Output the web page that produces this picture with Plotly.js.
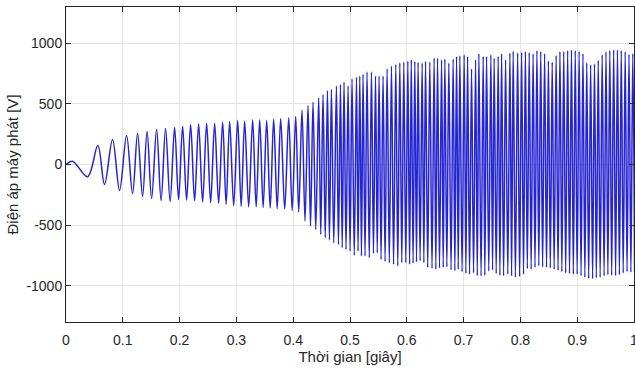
<!DOCTYPE html>
<html>
<head>
<meta charset="utf-8">
<script src="https://cdn.plot.ly/plotly-3.0.1.min.js"></script>
<style>
  html, body { margin: 0; padding: 0; background: #ffffff; }
  #chart { width: 635px; height: 369px; }
</style>
</head>
<body>
<div id="chart"></div>
<script>
// Extrema (alternating peaks / troughs) of the generator voltage.
// Time in seconds, voltage in volts.

// Start-up, 0 - 0.19 s
const tPhase1 = [0, 0.0115, 0.0379, 0.0560, 0.0678, 0.0819, 0.0943, 0.1066, 0.1172, 0.1260,
  0.1348, 0.1427, 0.1507, 0.1595, 0.1674, 0.1753, 0.1833, 0.1912];
const vPhase1 = [0, 27, -101, 156, -165, 207, -215, 240, -240, 256,
  -264, 273, -281, 289, -298, 298, -306, 306];

// Steady oscillation, 0.19 - 0.40 s
const tPhase2 = [0.1982, 0.2053, 0.2123, 0.2194, 0.2264, 0.2335, 0.2405, 0.2476, 0.2546, 0.2617,
  0.2687, 0.2758, 0.2819, 0.2881, 0.2952, 0.3022, 0.3084, 0.3145, 0.3216, 0.3286,
  0.3348, 0.3410, 0.3471, 0.3533, 0.3595, 0.3656, 0.3718, 0.3780, 0.3850, 0.3921,
  0.3982, 0.4044];
const vPhase2 = [-290, 316, -295, 330, -300, 335, -310, 340, -315, 340,
  -320, 350, -330, 355, -340, 365, -345, 360, -350, 370,
  -350, 370, -355, 365, -360, 375, -365, 380, -370, 385,
  -380, 396];

// Build-up, 0.40 - 0.60 s
const tPhase3 = [0.4097, 0.4155, 0.4208, 0.4261, 0.4305, 0.4349, 0.4397, 0.4449, 0.4485, 0.4525,
  0.4564, 0.4603, 0.4638, 0.4673, 0.4714, 0.4761, 0.4797, 0.4832, 0.4863, 0.4895,
  0.4930, 0.4966, 0.5001, 0.5036, 0.5075, 0.5114, 0.5142, 0.5172, 0.5202, 0.5230,
  0.5265, 0.5300, 0.5339, 0.5378, 0.5413, 0.5449, 0.5480, 0.5512, 0.5547, 0.5582,
  0.5618, 0.5653, 0.5692, 0.5730, 0.5767, 0.5806, 0.5841, 0.5877, 0.5912, 0.5947,
  0.5982, 0.6018];
const vPhase3 = [-393, 449, -467, 488, -509, 514, -536, 551, -577, 578,
  -605, 611, -624, 620, -646, 647, -660, 661, -687, 680,
  -701, 647, -715, 708, -750, 722, -715, 730, -756, 744,
  -756, 763, -770, 763, -734, 730, -729, 730, -784, 730,
  -800, 791, -811, 813, -825, 826, -838, 840, -811, 845,
  -811, 853];

// Full amplitude, 0.60 - 0.80 s
const tPhase4 = [0.6049, 0.6079, 0.6111, 0.6141, 0.6171, 0.6199, 0.6234, 0.6270, 0.6300, 0.6330,
  0.6368, 0.6405, 0.6444, 0.6481, 0.6511, 0.6541, 0.6576, 0.6612, 0.6641, 0.6670,
  0.6705, 0.6740, 0.6779, 0.6816, 0.6846, 0.6876, 0.6906, 0.6934, 0.6973, 0.7010,
  0.7040, 0.7070, 0.7105, 0.7140, 0.7175, 0.7211, 0.7241, 0.7269, 0.7308, 0.7345,
  0.7374, 0.7404, 0.7443, 0.7480, 0.7510, 0.7538, 0.7574, 0.7609, 0.7639, 0.7669,
  0.7704, 0.7739, 0.7778, 0.7815, 0.7845, 0.7873, 0.7912, 0.7951, 0.7986, 0.8021];
const vPhase4 = [-823, 865, -815, 851, -805, 843, -795, 838, -810, 851,
  -850, 846, -858, 879, -864, 879, -855, 865, -850, 871,
  -845, 838, -870, 871, -878, 892, -864, 898, -885, 906,
  -900, 892, -905, 789, -895, 865, -919, 915, -920, 892,
  -915, 892, -880, 906, -870, 879, -900, 892, -915, 915,
  -919, 865, -905, 920, -920, 934, -930, 920, -925, 925];

// Full amplitude, 0.80 - 1.00 s
const tPhase5 = [0.8055, 0.8088, 0.8122, 0.8155, 0.8189, 0.8224, 0.8257, 0.8291, 0.8324, 0.8358,
  0.8391, 0.8426, 0.8460, 0.8493, 0.8527, 0.8560, 0.8594, 0.8629, 0.8663, 0.8696,
  0.8730, 0.8763, 0.8797, 0.8832, 0.8865, 0.8899, 0.8932, 0.8966, 0.8999, 0.9034,
  0.9068, 0.9101, 0.9135, 0.9168, 0.9202, 0.9237, 0.9271, 0.9304, 0.9337, 0.9371,
  0.9404, 0.9440, 0.9473, 0.9507, 0.9540, 0.9574, 0.9607, 0.9642, 0.9676, 0.9709,
  0.9743, 0.9776, 0.9810, 0.9845, 0.9878, 0.9912, 0.9945, 0.9979, 1.0011];
const vPhase5 = [-905, 932, -860, 924, -864, 913, -850, 941, -836, 932,
  -845, 915, -850, 855, -855, 845, -864, 900, -875, 932,
  -885, 932, -895, 941, -900, 946, -905, 941, -905, 935,
  -919, 915, -930, 840, -940, 823, -942, 830, -935, 860,
  -930, 905, -920, 930, -910, 941, -915, 946, -919, 946,
  -910, 940, -895, 930, -885, 910, -890, 915, -890];

const xTickVals = [0, 0.1, 0.2, 0.3, 0.4, 0.5, 0.6, 0.7, 0.8, 0.9, 1];
const xTickText = ['0', '0.1', '0.2', '0.3', '0.4', '0.5', '0.6', '0.7', '0.8', '0.9', '1'];
const yTickVals = [-1000, -500, 0, 500, 1000];
const yTickText = ['-1000', '-500', '0', '500', '1000'];

const timeS = [].concat(tPhase1, tPhase2, tPhase3, tPhase4, tPhase5);
const voltV = [].concat(vPhase1, vPhase2, vPhase3, vPhase4, vPhase5);

const trace = {
  x: timeS,
  y: voltV,
  type: 'scatter',
  mode: 'lines',
  line: { color: '#2424d2', width: 1.5, shape: 'spline', smoothing: 1 },
  hoverinfo: 'skip'
};

const fontFam = '"Liberation Sans", Arial, Helvetica, sans-serif';
const axisCommon = {
  showline: true,
  linecolor: '#262626',
  linewidth: 1,
  mirror: 'ticks',
  ticks: 'inside',
  ticklen: 5,
  tickcolor: '#262626',
  tickwidth: 1,
  showgrid: true,
  gridcolor: '#e3e3e3',
  gridwidth: 1,
  zeroline: false,
  ticklabeloverflow: 'allow',
  tickfont: { family: fontFam, size: 14, color: '#262626' }
};

const layout = {
  width: 635,
  height: 369,
  margin: { l: 66, r: 1, t: 7, b: 47 },
  paper_bgcolor: '#ffffff',
  plot_bgcolor: '#ffffff',
  showlegend: false,
  xaxis: Object.assign({}, axisCommon, {
    range: [0, 1],
    tickmode: 'array',
    tickvals: xTickVals,
    ticktext: xTickText,
    ticklabelstandoff: 5,
    title: { text: 'Thời gian [giây]', font: { family: fontFam, size: 15, color: '#262626' }, standoff: 2 }
  }),
  yaxis: Object.assign({}, axisCommon, {
    range: [-1300, 1300],
    tickmode: 'array',
    tickvals: yTickVals,
    ticktext: yTickText,
    title: { text: 'Điện áp máy phát [V]', font: { family: fontFam, size: 15, color: '#262626' }, standoff: 4 }
  })
};

Plotly.newPlot('chart', [trace], layout, { displayModeBar: false, staticPlot: true });
</script>
</body>
</html>
